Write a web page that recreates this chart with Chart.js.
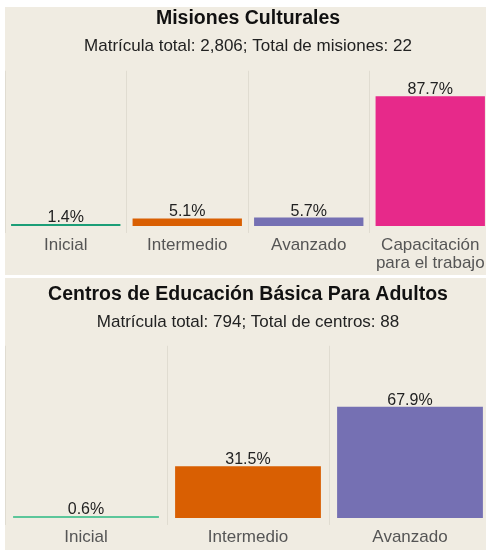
<!DOCTYPE html>
<html>
<head>
<meta charset="utf-8">
<script src="https://cdn.jsdelivr.net/npm/chart.js@4.4.0/dist/chart.umd.min.js"></script>
<style>
  html, body { margin: 0; padding: 0; background: #fff; overflow: hidden; }
  .panel { position: absolute; left: 5px; width: 486px; background: #f0ece2; }
  #p1 { top: 7px; height: 268px; }
  #p2 { top: 278px; height: 272px; }
</style>
</head>
<body>
<div class="panel" id="p1"><canvas id="misiones"></canvas></div>
<div class="panel" id="p2"><canvas id="centros"></canvas></div>
<script>
// Misiones Culturales
const misionesLabels = ['Inicial', 'Intermedio', 'Avanzado', ['Capacitación', 'para el trabajo']];
const misionesValues = [1.4, 5.1, 5.7, 87.7];
const misionesColors = ['#1b9e77', '#d95f02', '#7570b3', '#e7298a'];

// Centros de Educación Básica Para Adultos
const centrosLabels = ['Inicial', 'Intermedio', 'Avanzado'];
const centrosValues = [0.6, 31.5, 67.9];
const centrosColors = ['#5cc69a', '#d95f02', '#7570b3'];

const FONT = '"Liberation Sans", Arial, sans-serif';

// draws the percentage above each bar
const valueLabels = {
  id: 'valueLabels',
  afterDatasetsDraw(chart) {
    const ctx = chart.ctx;
    const meta = chart.getDatasetMeta(0);
    ctx.save();
    ctx.font = '16px ' + FONT;
    ctx.fillStyle = '#222';
    ctx.textAlign = 'center';
    ctx.textBaseline = 'alphabetic';
    meta.data.forEach((bar, i) => {
      const v = chart.data.datasets[0].data[i];
      ctx.fillText(v.toFixed(1) + '%', bar.x, bar.y - 2);
    });
    ctx.restore();
  }
};

function makeChart(id, title, subtitle, labels, values, colors, titlePad, subPad, bottomPad) {
  return new Chart(document.getElementById(id), {
    type: 'bar',
    data: {
      labels: labels,
      datasets: [{
        data: values,
        backgroundColor: colors,
        borderWidth: 0,
        minBarLength: 2,
        categoryPercentage: 0.9,
        barPercentage: 1
      }]
    },
    options: {
      responsive: true,
      maintainAspectRatio: false,
      animation: false,
      layout: { padding: { left: 0, right: 0, top: 0, bottom: bottomPad } },
      plugins: {
        legend: { display: false },
        tooltip: { enabled: false },
        title: {
          display: true,
          text: title,
          color: '#111',
          font: { family: FONT, size: 19.5, weight: 'bold' },
          padding: titlePad
        },
        subtitle: {
          display: true,
          text: subtitle,
          color: '#222',
          font: { family: FONT, size: 17 },
          padding: subPad
        }
      },
      scales: {
        x: {
          grid: { offset: true, color: '#e0dcd1', lineWidth: 1, drawTicks: true, tickLength: 7 },
          border: { display: false },
          ticks: {
            color: '#555',
            font: { family: FONT, size: 17, lineHeight: 1.06 },
            padding: 3,
            maxRotation: 0,
            autoSkip: false
          }
        },
        y: {
          display: false,
          min: 0,
          max: 105
        }
      }
    },
    plugins: [valueLabels]
  });
}

makeChart('misiones', 'Misiones Culturales', 'Matrícula total: 2,806; Total de misiones: 22',
  misionesLabels, misionesValues, misionesColors,
  { top: 0, bottom: 3 }, { top: 3, bottom: 14 }, 0);

makeChart('centros', 'Centros de Educación Básica Para Adultos', 'Matrícula total: 794; Total de centros: 88',
  centrosLabels, centrosValues, centrosColors,
  { top: 5, bottom: 3 }, { top: 3, bottom: 13 }, 1);
</script>
</body>
</html>
